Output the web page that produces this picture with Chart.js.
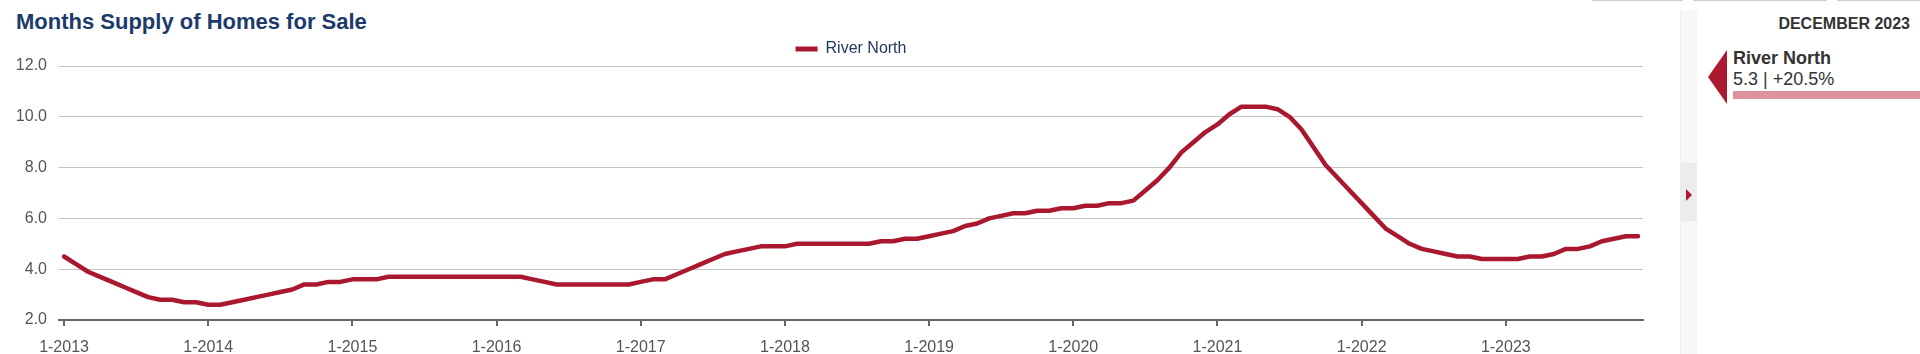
<!DOCTYPE html>
<html>
<head>
<meta charset="utf-8">
<script src="https://cdn.jsdelivr.net/npm/chart.js@4.4.1/dist/chart.umd.min.js"></script>
<style>
  html, body { margin:0; padding:0; background:#fff; }
  body { width:1920px; height:354px; position:relative; overflow:hidden; font-family:"Liberation Sans", Arial, sans-serif; }
  #title { position:absolute; left:16px; top:9px; font-size:22px; font-weight:bold; color:#1b3b6b; line-height:26px; white-space:nowrap; }
  #wrap { position:absolute; left:0; top:0; width:1660px; height:354px; }
  .topline { position:absolute; top:0; height:1px; background:#cfcfcf; }
  #strip { position:absolute; left:1680px; top:10px; width:17px; height:344px; background:#f7f7f7; border-left:1px solid #efefef; box-sizing:border-box; }
  #stripBtn { position:absolute; left:1680px; top:163px; width:17px; height:58px; background:#ececec; }
  #stripArrow { position:absolute; left:1686px; top:189px; width:0; height:0; border-top:6px solid transparent; border-bottom:6px solid transparent; border-left:6px solid #b0152d; }
  #month { position:absolute; right:10px; top:15px; font-size:16px; font-weight:bold; color:#333; white-space:nowrap; line-height:18px; }
  #tri { position:absolute; left:1708px; top:50px; width:0; height:0; border-top:27px solid transparent; border-bottom:27px solid transparent; border-right:19px solid #ab1a2f; }
  #sname { position:absolute; left:1733px; top:47px; font-size:18px; font-weight:bold; color:#333; line-height:22px; white-space:nowrap; }
  #sval { position:absolute; left:1733px; top:68px; font-size:18px; color:#333; line-height:22px; white-space:nowrap; }
  #sbar { position:absolute; left:1733px; top:91px; width:187px; height:8px; background:#da929c; }
</style>
</head>
<body>
<div class="topline" style="left:1592px;width:91px;"></div>
<div class="topline" style="left:1693px;width:134px;"></div>
<div class="topline" style="left:1837px;width:83px;"></div>
<div id="title">Months Supply of Homes for Sale</div>
<div id="wrap"><canvas id="c" width="1660" height="354"></canvas></div>
<div id="strip"></div>
<div id="stripBtn"></div>
<div id="stripArrow"></div>
<div id="month">DECEMBER 2023</div>
<div id="tri"></div>
<div id="sname">River North</div>
<div id="sval">5.3 | +20.5%</div>
<div id="sbar"></div>
<script>
// ---- data (monthly, Jan 2013 .. Dec 2023) ----
const seriesName = 'River North';
const v2013 = [4.5, 4.2, 3.9, 3.7, 3.5, 3.3, 3.1, 2.9, 2.8, 2.8, 2.7, 2.7];
const v2014 = [2.6, 2.6, 2.7, 2.8, 2.9, 3.0, 3.1, 3.2, 3.4, 3.4, 3.5, 3.5];
const v2015 = [3.6, 3.6, 3.6, 3.7, 3.7, 3.7, 3.7, 3.7, 3.7, 3.7, 3.7, 3.7];
const v2016 = [3.7, 3.7, 3.7, 3.6, 3.5, 3.4, 3.4, 3.4, 3.4, 3.4, 3.4, 3.4];
const v2017 = [3.5, 3.6, 3.6, 3.8, 4.0, 4.2, 4.4, 4.6, 4.7, 4.8, 4.9, 4.9];
const v2018 = [4.9, 5.0, 5.0, 5.0, 5.0, 5.0, 5.0, 5.0, 5.1, 5.1, 5.2, 5.2];
const v2019 = [5.3, 5.4, 5.5, 5.7, 5.8, 6.0, 6.1, 6.2, 6.2, 6.3, 6.3, 6.4];
const v2020 = [6.4, 6.5, 6.5, 6.6, 6.6, 6.7, 7.1, 7.5, 8.0, 8.6, 9.0, 9.4];
const v2021 = [9.7, 10.1, 10.4, 10.4, 10.4, 10.3, 10.0, 9.5, 8.8, 8.1, 7.6, 7.1];
const v2022 = [6.6, 6.1, 5.6, 5.3, 5.0, 4.8, 4.7, 4.6, 4.5, 4.5, 4.4, 4.4];
const v2023 = [4.4, 4.4, 4.5, 4.5, 4.6, 4.8, 4.8, 4.9, 5.1, 5.2, 5.3, 5.3];
const xTickLabels = ['1-2013','1-2014','1-2015','1-2016','1-2017','1-2018','1-2019','1-2020','1-2021','1-2022','1-2023'];
const yTickValues = [2, 4, 6, 8, 10, 12];

const values = [].concat(v2013, v2014, v2015, v2016, v2017, v2018, v2019, v2020, v2021, v2022, v2023);
const points = values.map((v, i) => ({ x: i, y: v }));
const xTickPositions = xTickLabels.map((_, i) => i * 12);

const lineColor = '#a9182e';
const legendFix = {
  id: 'legendFix',
  beforeInit(chart) {
    const lg = chart.legend;
    if (!lg) return;
    const fit = lg.fit;
    lg.fit = function () { fit.call(this); this.height = 35; };
  }
};

new Chart(document.getElementById('c'), {
  type: 'line',
  data: {
    datasets: [{
      label: seriesName,
      data: points,
      borderColor: lineColor,
      backgroundColor: lineColor,
      borderWidth: 4.5,
      pointRadius: 0,
      pointHoverRadius: 0,
      tension: 0,
      borderJoinStyle: 'round',
      borderCapStyle: 'round'
    }]
  },
  options: {
    responsive: false,
    animation: false,
    devicePixelRatio: 1,
    layout: { padding: { top: 31, left: 0, right: 17, bottom: 0 } },
    plugins: {
      tooltip: { enabled: false },
      title: { display: false },
      legend: {
        display: true,
        position: 'top',
        fullSize: false,
        labels: {
          boxWidth: 22,
          boxHeight: 5,
          padding: 10,
          color: '#1f3a60',
          font: { family: '"Liberation Sans", Arial, sans-serif', size: 16 },
          generateLabels(chart) {
            const items = Chart.defaults.plugins.legend.labels.generateLabels(chart);
            items.forEach(it => { it.lineWidth = 0; it.fillStyle = lineColor; });
            return items;
          }
        }
      }
    },
    scales: {
      x: {
        type: 'linear',
        min: -0.42,
        max: 131.42,
        afterBuildTicks(scale) { scale.ticks = xTickPositions.map(v => ({ value: v })); },
        afterFit(scale) { scale.height = 34; },
        ticks: {
          autoSkip: false,
          maxRotation: 0,
          padding: 12,
          color: '#555',
          font: { family: '"Liberation Sans", Arial, sans-serif', size: 16 },
          callback(value) { const k = xTickPositions.indexOf(value); return k >= 0 ? xTickLabels[k] : ''; }
        },
        grid: { drawOnChartArea: false, drawTicks: true, tickLength: 6, color: '#666', lineWidth: 2 },
        border: { display: true, color: '#666', width: 2 }
      },
      y: {
        type: 'linear',
        min: 2,
        max: 12,
        afterBuildTicks(scale) { scale.ticks = yTickValues.map(v => ({ value: v })); },
        afterFit(scale) { scale.width = 59; },
        ticks: {
          padding: 12,
          color: '#555',
          font: { family: '"Liberation Sans", Arial, sans-serif', size: 16 },
          callback(value) { return Number(value).toFixed(1); }
        },
        grid: { drawTicks: false, color: '#c4c4c4', lineWidth: 1 },
        border: { display: false }
      }
    }
  },
  plugins: [legendFix]
});
</script>
</body>
</html>
